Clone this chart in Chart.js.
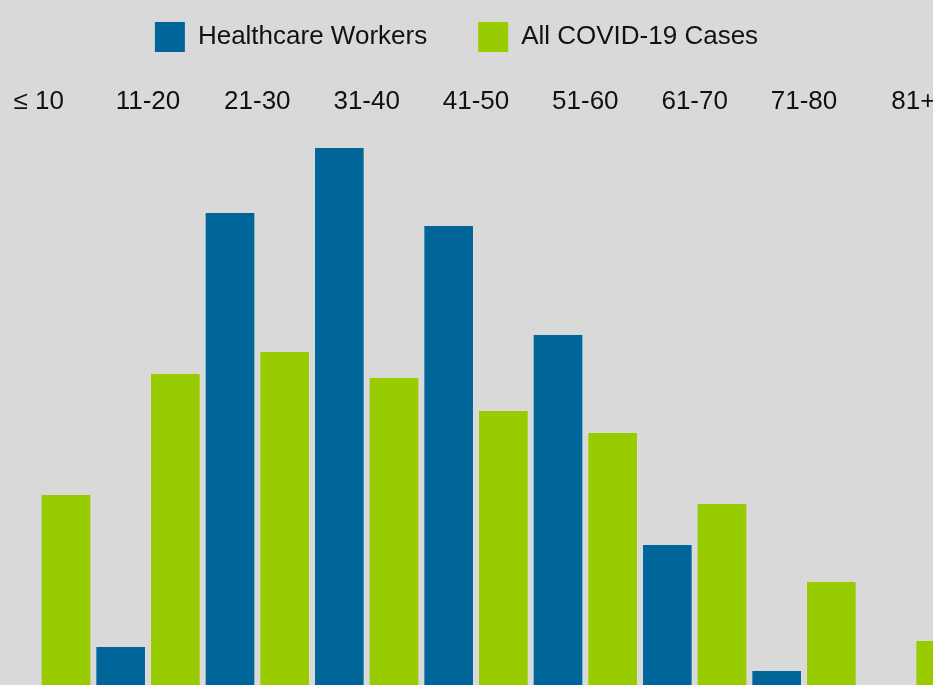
<!DOCTYPE html>
<html>
<head>
<meta charset="utf-8">
<script src="https://cdn.jsdelivr.net/npm/chart.js@4/dist/chart.umd.min.js"></script>
<style>
  html, body { margin: 0; padding: 0; width: 933px; height: 685px; overflow: hidden; background: #d9d9d9; }
  #wrap { position: absolute; left: -55px; top: -29px; width: 1023px; height: 714px; }
</style>
</head>
<body>
<div id="wrap"><canvas id="chart" width="1023" height="714"></canvas></div>
<script>
// age groups (percent of cases in each group)
const ageGroups = ['≤ 10', '11-20', '21-30', '31-40', '41-50', '51-60', '61-70', '71-80', '81+']
const healthcareWorkers = [0, 1.9, 23.6, 26.85, 22.95, 17.5, 7.0, 0.7, 0]
const allCases = [9.5, 15.55, 16.65, 15.35, 13.7, 12.6, 9.05, 5.15, 2.2]

const blue = '#006699'
const green = '#99cc00'

new Chart(document.getElementById('chart'), {
  type: 'bar',
  data: {
    labels: ageGroups,
    datasets: [
      { label: 'Healthcare Workers', data: healthcareWorkers, backgroundColor: blue, borderWidth: 0 },
      { label: 'All COVID-19 Cases', data: allCases, backgroundColor: green, borderWidth: 0 }
    ]
  },
  options: {
    responsive: false,
    animation: false,
    devicePixelRatio: 1,
    datasets: { bar: { barPercentage: 0.89, categoryPercentage: 1 } },
    layout: { padding: 0 },
    plugins: {
      tooltip: { enabled: false },
      legend: {
        position: 'top',
        labels: {
          boxWidth: 30,
          boxHeight: 30,
          padding: 51,
          color: '#111',
          font: { family: '"Liberation Sans", Arial, sans-serif', size: 26 }
        }
      }
    },
    scales: {
      x: {
        position: 'top',
        grid: { display: false, drawTicks: false },
        border: { display: false },
        ticks: {
          padding: 8,
          color: '#111',
          maxRotation: 0,
          font: { family: '"Liberation Sans", Arial, sans-serif', size: 26 }
        },
        afterFit: function(s) { s.height = 63 }
      },
      y: {
        display: true,
        min: 0,
        max: 28,
        grid: { display: false, drawTicks: false },
        border: { display: false },
        ticks: { display: false },
        afterFit: function(s) { s.width = 39 }
      }
    }
  }
})
</script>
</body>
</html>
